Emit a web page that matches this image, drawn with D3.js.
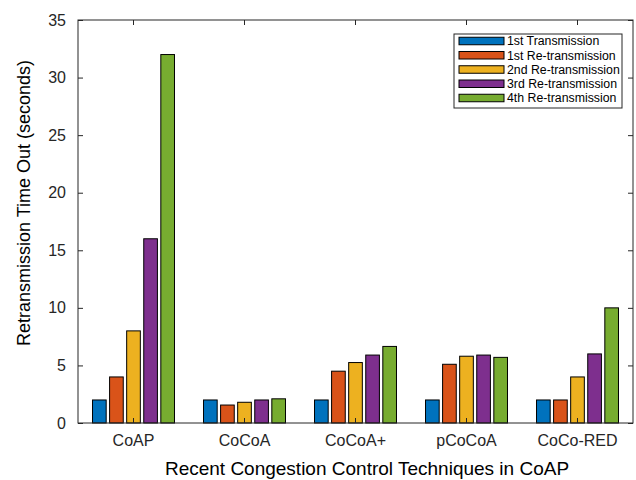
<!DOCTYPE html>
<html>
<head>
<meta charset="utf-8">
<script src="https://cdn.jsdelivr.net/npm/d3@7"></script>
<style>
  html, body { margin: 0; padding: 0; background: #fff; }
  svg { display: block; font-family: "Liberation Sans", Arial, Helvetica, sans-serif; }
</style>
</head>
<body>
<svg id="chart" width="636" height="480"></svg>
<script>
// data
const categories = ["CoAP", "CoCoA", "CoCoA+", "pCoCoA", "CoCo-RED"]
const seriesNames = ["1st Transmission", "1st Re-transmission", "2nd Re-transmission", "3rd Re-transmission", "4th Re-transmission"]
const firstTx   = [2, 2,   2,    2,   2]
const firstRe   = [4, 1.56, 4.5, 5.1, 2]
const secondRe  = [8, 1.8, 5.25, 5.8, 4]
const thirdRe   = [16, 2,  5.9,  5.9, 6]
const fourthRe  = [32, 2.1, 6.65, 5.7, 10]
const yTicks = [0, 5, 10, 15, 20, 25, 30, 35]
const colors = ["#0072BD", "#D95319", "#EDB120", "#7E2F8E", "#77AC30"]

const seriesValues = [firstTx, firstRe, secondRe, thirdRe, fourthRe]

const plotL = 78, plotR = 633, plotT = 20, plotB = 423
const axisColor = "#262626"

const svg = d3.select("#chart")

const xScale = d3.scaleBand()
    .domain(categories)
    .range([plotL, plotR])
    .padding(0)

const bw = xScale.bandwidth()
const groupFrac = 5 / 6.5

const inner = d3.scaleBand()
    .domain(d3.range(seriesNames.length))
    .range([bw * (1 - groupFrac) / 2, bw * (1 + groupFrac) / 2])
    .paddingInner(0.2)
    .paddingOuter(0.1)

const yScale = d3.scaleLinear()
    .domain([0, 35])
    .range([plotB, plotT])

// build rows: one per (category, series)
const rows = []
categories.forEach((c, ci) => {
    seriesValues.forEach((vals, si) => {
        rows.push({cat: c, s: si, v: vals[ci]})
    })
})

svg.append("g")
    .selectAll("rect")
    .data(rows)
    .join("rect")
    .attr("x", d => xScale(d.cat) + inner(d.s))
    .attr("y", d => yScale(d.v))
    .attr("width", inner.bandwidth())
    .attr("height", d => yScale(0) - yScale(d.v))
    .attr("fill", d => colors[d.s])
    .attr("stroke", "#000")
    .attr("stroke-width", 1)

// axes (drawn on top like matlab)
const tickLen = 5

const xAxis = svg.append("g")
    .attr("transform", `translate(0,${plotB})`)
    .call(d3.axisBottom(xScale).tickSizeInner(-tickLen).tickSizeOuter(0).tickPadding(12))
xAxis.select(".domain").remove()
xAxis.selectAll("text").attr("font-size", 16).attr("fill", axisColor)
    .attr("font-family", "Liberation Sans, Arial, sans-serif")

const xTop = svg.append("g")
    .attr("transform", `translate(0,${plotT})`)
    .call(d3.axisTop(xScale).tickSizeInner(-tickLen).tickSizeOuter(0).tickFormat(""))
xTop.select(".domain").remove()

const yAxis = svg.append("g")
    .attr("transform", `translate(${plotL},0)`)
    .call(d3.axisLeft(yScale).tickValues(yTicks).tickSizeInner(-tickLen).tickSizeOuter(0).tickPadding(12))
yAxis.select(".domain").remove()
yAxis.selectAll("text").attr("font-size", 16).attr("fill", axisColor)
    .attr("font-family", "Liberation Sans, Arial, sans-serif")

const yRight = svg.append("g")
    .attr("transform", `translate(${plotR},0)`)
    .call(d3.axisRight(yScale).tickValues(yTicks).tickSizeInner(-tickLen).tickSizeOuter(0).tickFormat(""))
yRight.select(".domain").remove()

svg.selectAll(".tick line").attr("stroke", axisColor)

svg.append("rect")
    .attr("x", plotL).attr("y", plotT)
    .attr("width", plotR - plotL).attr("height", plotB - plotT)
    .attr("fill", "none")
    .attr("stroke", axisColor)
    .attr("stroke-width", 1)

// axis titles
svg.append("text")
    .attr("x", 367).attr("y", 475)
    .attr("text-anchor", "middle")
    .attr("font-size", 19)
    .attr("fill", "#000")
    .text("Recent Congestion Control Techniques in CoAP")

svg.append("text")
    .attr("transform", "translate(30,203) rotate(-90)")
    .attr("text-anchor", "middle")
    .attr("font-size", 18)
    .attr("fill", "#000")
    .text("Retransmission Time Out (seconds)")

// legend
const legend = svg.append("g").attr("transform", "translate(454,34)")
legend.append("rect")
    .attr("width", 168).attr("height", 74)
    .attr("fill", "#fff")
    .attr("stroke", axisColor)
    .attr("stroke-width", 1)

const rowY = d3.scaleLinear().domain([0, 4]).range([7, 64])

const entry = legend.selectAll("g.entry")
    .data(seriesNames)
    .join("g")
    .attr("class", "entry")
    .attr("transform", (d, i) => `translate(0,${rowY(i)})`)

entry.append("rect")
    .attr("x", 5).attr("y", -3.75)
    .attr("width", 45).attr("height", 7.5)
    .attr("fill", (d, i) => colors[i])
    .attr("stroke", "#000")
    .attr("stroke-width", 1)

entry.append("text")
    .attr("x", 53).attr("y", 0)
    .attr("dy", "0.35em")
    .attr("font-size", 12.3)
    .attr("fill", "#000")
    .text(d => d)
</script>
</body>
</html>
